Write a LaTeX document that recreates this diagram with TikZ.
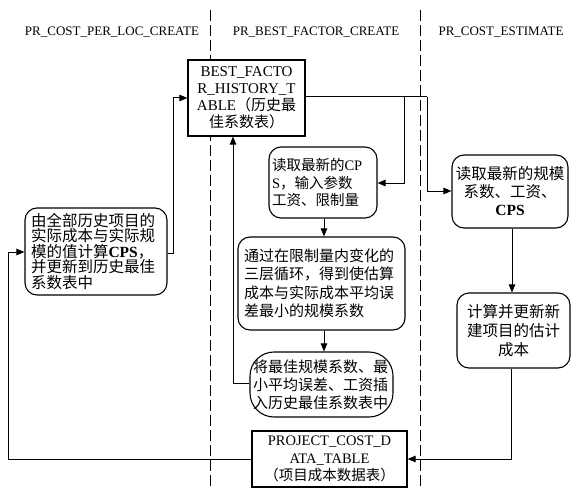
\documentclass[tikz,border=0pt]{standalone}
\usepackage{fontspec}
\setmainfont{Liberation Serif}
\newfontfamily\cjk{Noto Sans CJK SC}
\usetikzlibrary{arrows.meta}
\begin{document}
\begin{tikzpicture}[x=1pt,y=-1pt,
  tbl/.style={draw, line width=1.2pt, inner sep=2pt, align=center},
  rbox/.style={draw, line width=1.1pt, rounded corners=12pt, inner sep=3pt},
  hdr/.style={font=\fontsize{13}{15}\selectfont, inner sep=0pt},
  arr/.style={line width=1pt, -{Triangle[length=8pt,width=6.5pt]}},
  ln/.style={line width=1pt},
  divider/.style={line width=1pt, dash pattern=on 11pt off 4pt}]
\useasboundingbox (0,0) rectangle (572,489);
% dividers
\coordinate (d1t) at (210,10); \coordinate (d1b) at (210,489);
\coordinate (d2t) at (420,10); \coordinate (d2b) at (420,489);
\draw[divider] (d1t) -- (d1b);
\draw[divider] (d2t) -- (d2b);
% headers
\node[hdr] (h1) at (112,32) {PR\_COST\_PER\_LOC\_CREATE};
\node[hdr] (h2) at (316,32) {PR\_BEST\_FACTOR\_CREATE};
\node[hdr] (h3) at (501,32) {PR\_COST\_ESTIMATE};
% tables
\node[tbl, fill=white, minimum width=117pt, minimum height=76pt, text width=113pt,
      font=\fontsize{15}{17}\selectfont] (best) at (246.5,98)
  {BEST\_FACTO\\R\_HISTORY\_T\\ABLE{\cjk（历史最}\\{\cjk 佳系数表）}};
\node[tbl, fill=white, minimum width=155pt, minimum height=56pt, text width=151pt,
      font=\fontsize{14.5}{17.5}\selectfont] (proj) at (329.5,459)
  {PROJECT\_COST\_D\\ATA\_TABLE\\{\cjk（项目成本数据表）}};
% process boxes
\node[rbox, minimum width=142pt, minimum height=87pt, text width=130pt, align=left,
      font=\fontsize{15.5}{15.5}\cjk] (l1) at (96,251.5)
  {由全部历史项目的\\实际成本与实际规\\模的值计算{\fontspec{Liberation Serif}\bfseries CPS}，\\并更新到历史最佳\\系数表中};
\node[rbox, minimum width=108pt, minimum height=71pt, text width=102pt, align=left,
      font=\fontsize{14.5}{17.5}\cjk] (m1) at (323,182.5)
  {读取最新的{\fontspec{Liberation Serif}CP}\\{\fontspec{Liberation Serif}S}，输入参数\\工资、限制量};
\node[rbox, minimum width=167pt, minimum height=93pt, text width=155pt, align=left,
      font=\fontsize{15}{18.5}\cjk] (m2) at (321.5,283.5)
  {通过在限制量内变化的\\三层循环，得到使估算\\成本与实际成本平均误\\差最小的规模系数};
\node[rbox, rounded corners=24pt, minimum width=143pt, minimum height=65pt, text width=137pt, align=left,
      font=\fontsize{15}{18}\cjk] (m3) at (321.5,384.5)
  {将最佳规模系数、最\\小平均误差、工资插\\入历史最佳系数表中};
\node[rbox, minimum width=116pt, minimum height=73pt, text width=110pt, align=center,
      font=\fontsize{15.5}{18}\cjk] (r1) at (510,191.5)
  {读取最新的规模\\系数、工资、\\{\fontspec{Liberation Serif}\bfseries CPS}};
\node[rbox, minimum width=113pt, minimum height=75pt, text width=107pt, align=center,
      font=\fontsize{15.5}{19}\cjk] (r2) at (513.5,330.5)
  {计算并更新新\\建项目的估计\\成本};
% connectors
\coordinate (c1) at (427,97);
\coordinate (c2) at (404,97);
\draw[ln] (best.east |- c1) -- (c1);
\draw[arr] (c1) |- (r1.west |- 0,191);
\draw[arr] (c2) |- (m1.east |- 0,183);
\draw[arr] (m1.south -| 324,0) -- (m2.north -| 324,0);
\draw[arr] (m2.south -| 324,0) -- (m3.north -| 324,0);
\coordinate (c3) at (233,383);
\draw[arr] (m3.west |- c3) -- (c3) -- (best.south -| c3);
\coordinate (c4) at (173,253);
\draw[arr] (l1.east |- c4) -- (c4) |- (best.west |- 0,98);
\coordinate (c5) at (8,459);
\draw[arr] (proj.west |- c5) -- (c5) |- (l1.west |- 0,252);
\draw[arr] (r1.south -| 512,0) -- (r2.north -| 512,0);
\coordinate (c6) at (511,459);
\draw[arr] (r2.south -| c6) -- (c6) -- (proj.east |- c6);
\end{tikzpicture}
\end{document}
